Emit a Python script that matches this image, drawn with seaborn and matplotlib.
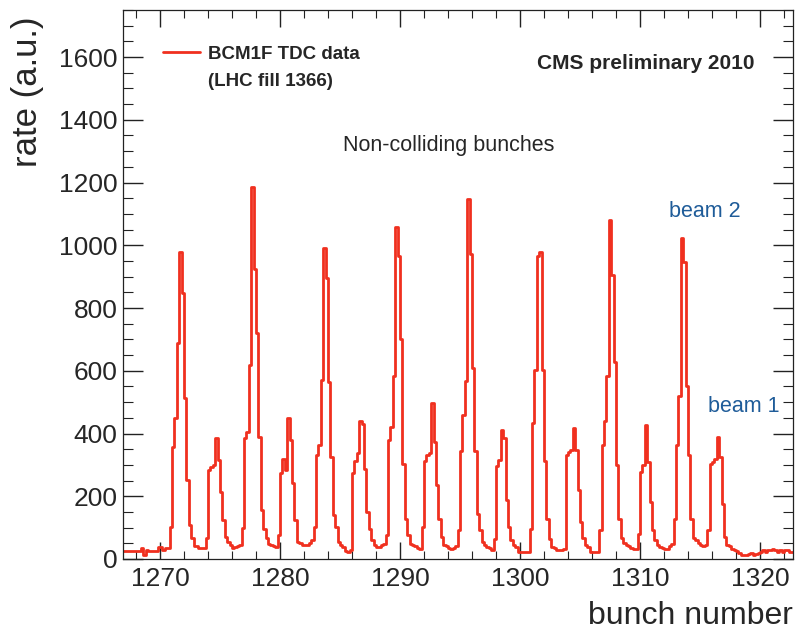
import numpy as np
import pandas as pd
import matplotlib
matplotlib.use("Agg")
import matplotlib.pyplot as plt
from matplotlib.ticker import MultipleLocator
from matplotlib.lines import Line2D
import seaborn as sns

# ------------------------ Données (taux par bin de 1/5 de bunch) ------------------------
x_start = 1266.8
bin_width = 0.2

lead_in = [24, 24, 25, 24, 26, 27, 25, 24, 35, 13, 28, 25, 26, 25, 26,
           38, 38, 30, 36, 34]
train_1 = [103, 358, 449, 687, 979, 847, 512, 252, 108, 66, 41, 41, 36, 34, 34,
           66, 284, 292, 300, 385, 315, 215, 124, 71, 55, 45, 34, 39, 41, 45]
train_2 = [98, 385, 406, 618, 1186, 926, 719, 390, 156, 97, 66, 49, 45, 40, 39,
           76, 274, 319, 284, 449, 379, 242, 124, 54, 50, 45, 45, 45, 50, 60]
train_3 = [103, 332, 364, 571, 990, 896, 565, 326, 139, 103, 54, 45, 39, 25, 23,
           30, 274, 311, 338, 439, 430, 286, 150, 97, 60, 45, 39, 39, 45, 49]
train_4 = [76, 379, 422, 582, 1059, 966, 700, 304, 128, 76, 49, 44, 40, 35, 33,
           103, 311, 330, 338, 497, 373, 235, 129, 70, 44, 40, 35, 33, 35, 40]
train_5 = [92, 343, 460, 566, 1146, 972, 608, 343, 145, 92, 54, 45, 39, 35, 29,
           65, 295, 316, 411, 385, 188, 103, 60, 45, 39, 23, 23, 23, 23, 23]
train_6 = [97, 433, 603, 966, 980, 603, 311, 129, 65, 39, 35, 29, 29, 30, 33,
           332, 340, 348, 417, 348, 219, 117, 66, 45, 39, 23, 23, 23, 23, 92]
train_7 = [364, 439, 582, 1080, 905, 629, 299, 128, 66, 50, 44, 40, 35, 33, 33,
           81, 278, 299, 427, 310, 182, 92, 60, 45, 39, 35, 33, 33, 40, 49]
train_8 = [129, 364, 520, 1022, 947, 551, 332, 129, 66, 60, 50, 44, 40, 44, 92,
           304, 310, 320, 388, 326, 176, 70, 44, 40, 33, 28, 25, 18, 12, 12]
tail = [12, 15, 18, 12, 15, 18, 23, 28, 23, 28, 28, 33, 28, 23, 28, 23, 28,
        28, 23, 23]

rates = (lead_in + train_1 + train_2 + train_3 + train_4 + train_5
         + train_6 + train_7 + train_8 + tail)
n_bins = len(rates)
x_end = x_start + bin_width * n_bins
centres = x_start + bin_width * (np.arange(n_bins) + 0.5)
df = pd.DataFrame({"bunch": centres, "rate": rates})

red = "#f0301f"
blue = "#1f5c99"

# ------------------------ Figure ------------------------
sns.set_style("ticks")
plt.rcParams['font.family'] = ['Liberation Sans', 'DejaVu Sans']

fig = plt.figure(figsize=(7.95, 6.35), dpi=100)
ax = fig.add_axes([123 / 795, 1 - 559 / 635, 670 / 795, 549 / 635])

sns.histplot(data=df, x="bunch", weights="rate", bins=n_bins,
             binrange=(x_start, x_end), element="step", fill=False,
             color=red, linewidth=2.0, ax=ax)

ax.set_xlim(1266.917, 1322.75)
ax.set_ylim(0, 1750)
ax.xaxis.set_major_locator(MultipleLocator(10))
ax.xaxis.set_minor_locator(MultipleLocator(2))
ax.yaxis.set_major_locator(MultipleLocator(200))
ax.yaxis.set_minor_locator(MultipleLocator(50))
ax.tick_params(which="both", direction="in", top=True, right=True,
               color="#222222", labelsize=19)
ax.tick_params(axis="x", which="major", length=12.5, width=1, pad=6)
ax.tick_params(axis="x", which="minor", length=6, width=0.8)
ax.tick_params(axis="y", which="major", length=14.5, width=1, pad=4)
ax.tick_params(axis="y", which="minor", length=7, width=0.8)
for s in ax.spines.values():
    s.set_linewidth(0.9)
    s.set_color("#222222")

ax.set_xlabel("bunch number", fontsize=23, ha="right", va="center")
ax.xaxis.set_label_coords(1.0, -0.104)
ax.set_ylabel("rate (a.u.)", fontsize=25, va="center")
ax.yaxis.set_label_coords(-0.143, 0.851)

# Légende
handles = [Line2D([], [], color=red, lw=2.0), Line2D([], [], color="none")]
ax.legend(handles, ["BCM1F TDC data", "(LHC fill 1366)"],
          prop={"weight": "bold", "size": 13.5}, loc="upper left",
          bbox_to_anchor=(0.0597, 0.935), frameon=False, handlelength=2.0,
          handletextpad=0.4, borderpad=0, borderaxespad=0, labelspacing=0.55)

ax.text(0.9418, 0.8934, "CMS preliminary 2010", transform=ax.transAxes,
        ha="right", va="baseline", fontsize=15, fontweight="bold")
ax.text(0.3284, 0.7432, "Non-colliding bunches", transform=ax.transAxes,
        ha="left", va="baseline", fontsize=15.5)
ax.text(0.815, 0.6235, "beam 2", transform=ax.transAxes,
        ha="left", va="baseline", fontsize=15.5, color=blue)
ax.text(0.873, 0.2683, "beam 1", transform=ax.transAxes,
        ha="left", va="baseline", fontsize=15.5, color=blue)

fig.savefig("out.png", dpi=100)
